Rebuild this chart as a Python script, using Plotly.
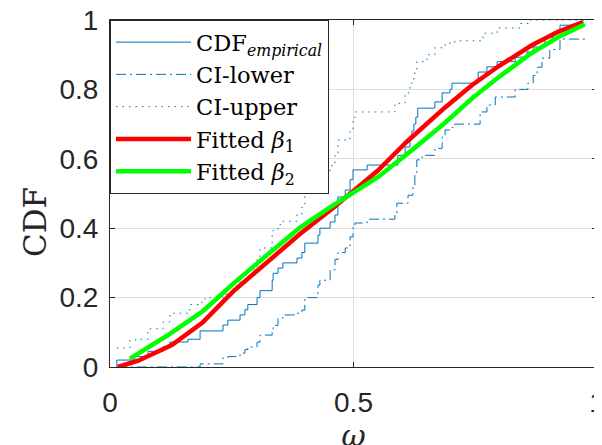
import plotly.graph_objects as go

# ---- Empirical CDF (jump positions and levels after each jump) ----
ecdf_x = [0.014, 0.051, 0.078, 0.109, 0.123, 0.160, 0.185, 0.232, 0.242, 0.267,
          0.277, 0.283, 0.302, 0.308, 0.333, 0.335, 0.345, 0.355, 0.384, 0.394,
          0.400, 0.427, 0.431, 0.452, 0.462, 0.468, 0.483, 0.493, 0.499, 0.528,
          0.591, 0.606, 0.616, 0.620, 0.624, 0.628, 0.632, 0.667, 0.682, 0.698,
          0.702, 0.756, 0.774, 0.795, 0.832, 0.856, 0.869, 0.893, 0.910, 0.924,
          0.971]
ecdf_y = [0.02, 0.03, 0.045, 0.058, 0.072, 0.08, 0.104, 0.121, 0.135, 0.15,
          0.165, 0.18, 0.2, 0.22, 0.25, 0.27, 0.285, 0.30, 0.314, 0.33,
          0.357, 0.38, 0.40, 0.418, 0.438, 0.49, 0.51, 0.54, 0.568, 0.582,
          0.61, 0.634, 0.66, 0.68, 0.70, 0.72, 0.746, 0.764, 0.79, 0.80,
          0.818, 0.85, 0.865, 0.88, 0.893, 0.908, 0.922, 0.95, 0.965, 0.985,
          1.0]

# ---- Confidence bounds ----
upper_x = [0.014, 0.041, 0.055, 0.078, 0.109, 0.123, 0.164, 0.189, 0.195, 0.232,
           0.242, 0.267, 0.277, 0.283, 0.302, 0.308, 0.333, 0.335, 0.345, 0.355,
           0.384, 0.394, 0.400, 0.427, 0.431, 0.452, 0.462, 0.468, 0.493, 0.499,
           0.503, 0.585, 0.606, 0.616, 0.624, 0.630, 0.651, 0.667, 0.688, 0.708,
           0.766, 0.795, 0.842, 0.862, 0.971]
upper_y = [0.055, 0.078, 0.08, 0.11, 0.13, 0.155, 0.18, 0.195, 0.2, 0.21,
           0.235, 0.25, 0.265, 0.28, 0.31, 0.343, 0.38, 0.395, 0.41, 0.42,
           0.44, 0.46, 0.51, 0.54, 0.56, 0.58, 0.61, 0.654, 0.683, 0.71,
           0.735, 0.76, 0.79, 0.818, 0.847, 0.88, 0.9, 0.92, 0.933, 0.94,
           0.962, 0.977, 0.99, 1.0, 1.0]

lower_x = [0.014, 0.185, 0.232, 0.242, 0.267, 0.277, 0.283, 0.302, 0.308, 0.333,
           0.335, 0.345, 0.355, 0.384, 0.394, 0.400, 0.427, 0.431, 0.452, 0.462,
           0.468, 0.483, 0.493, 0.499, 0.503, 0.528, 0.585, 0.589, 0.612, 0.622,
           0.626, 0.630, 0.641, 0.667, 0.682, 0.688, 0.702, 0.708, 0.760, 0.774,
           0.791, 0.832, 0.858, 0.869, 0.877, 0.887, 0.903, 0.924, 0.975]
lower_y = [0.0, 0.009, 0.026, 0.03, 0.04, 0.05, 0.058, 0.072, 0.092, 0.105,
           0.12, 0.14, 0.15, 0.155, 0.164, 0.2, 0.236, 0.25, 0.28, 0.31,
           0.33, 0.343, 0.375, 0.403, 0.415, 0.426, 0.443, 0.472, 0.495, 0.524,
           0.56, 0.597, 0.61, 0.63, 0.663, 0.683, 0.69, 0.70, 0.735, 0.755,
           0.778, 0.8, 0.818, 0.84, 0.864, 0.89, 0.915, 0.945, 0.945]

# ---- Fitted curves ----
beta1_x = [0.016, 0.058, 0.127, 0.19, 0.253, 0.322, 0.39, 0.458, 0.50, 0.55,
           0.61, 0.688, 0.743, 0.797, 0.866, 0.92, 0.971]
beta1_y = [0.0, 0.018, 0.063, 0.128, 0.218, 0.302, 0.383, 0.458, 0.507, 0.566,
           0.650, 0.748, 0.812, 0.866, 0.927, 0.966, 0.994]

beta2_x = [0.041, 0.117, 0.19, 0.253, 0.322, 0.39, 0.458, 0.50, 0.55, 0.62,
           0.688, 0.745, 0.797, 0.866, 0.92, 0.975]
beta2_y = [0.024, 0.090, 0.160, 0.240, 0.322, 0.402, 0.466, 0.503, 0.547, 0.625,
           0.704, 0.776, 0.834, 0.905, 0.950, 0.988]

x_ticks = [0, 0.5, 1]
x_tick_labels = ["0", "0.5", "1"]
y_ticks = [0, 0.2, 0.4, 0.6, 0.8, 1]
y_tick_labels = ["0", "0.2", "0.4", "0.6", "0.8", "1"]

BLUE = "#0072BD"
AX = "#262626"
SERIF = "DejaVu Serif"

fig = go.Figure()
fig.add_trace(go.Scatter(x=[ecdf_x[0]] + ecdf_x, y=[0] + ecdf_y, mode="lines",
                         line=dict(color=BLUE, width=1, shape="hv"),
                         name="CDF<sub><i>empirical</i></sub>"))
fig.add_trace(go.Scatter(x=lower_x, y=lower_y, mode="lines",
                         line=dict(color=BLUE, width=1, shape="hv", dash="10px,4px,2px,4px"),
                         name="CI-lower"))
fig.add_trace(go.Scatter(x=upper_x, y=upper_y, mode="lines",
                         line=dict(color=BLUE, width=1, shape="hv", dash="1.5px,5px"),
                         name="CI-upper"))
fig.add_trace(go.Scatter(x=beta1_x, y=beta1_y, mode="lines",
                         line=dict(color="#FF0000", width=4.5),
                         name="Fitted <i>β</i><sub>1</sub>"))
fig.add_trace(go.Scatter(x=beta2_x, y=beta2_y, mode="lines",
                         line=dict(color="#00FF00", width=4.5),
                         name="Fitted <i>β</i><sub>2</sub>"))

axis_common = dict(showline=True, linecolor=AX, linewidth=1, mirror="allticks",
                   ticks="inside", ticklen=5, tickcolor=AX, showgrid=True,
                   gridcolor="#dfdfdf", gridwidth=1, zeroline=False, automargin=False,
                   ticklabeloverflow="allow",
                   tickfont=dict(family="Liberation Sans", size=28, color=AX))

fig.update_xaxes(range=[0, 1], tickvals=x_ticks, ticktext=x_tick_labels,
                 ticklabelstandoff=10,
                 title=dict(text="<i>ω</i>", font=dict(family=SERIF, size=30, color=AX),
                            standoff=4),
                 **axis_common)
fig.update_yaxes(range=[0, 1], tickvals=y_ticks, ticktext=y_tick_labels,
                 ticklabelstandoff=5, **axis_common)

fig.add_annotation(text="CDF", xref="paper", yref="paper", x=-0.154, y=0.418,
                   textangle=-90, showarrow=False, xanchor="center", yanchor="middle",
                   font=dict(family=SERIF, size=31, color=AX))

fig.update_layout(
    width=602, height=445,
    margin=dict(l=102, r=13, t=12, b=86, autoexpand=False),
    plot_bgcolor="white", paper_bgcolor="white",
    legend=dict(x=0, y=1, xanchor="left", yanchor="top", bgcolor="white",
                bordercolor=AX, borderwidth=1, itemwidth=75, tracegroupgap=0,
                font=dict(family=SERIF, size=22.5, color="black")),
)

fig.write_html("out.html")
